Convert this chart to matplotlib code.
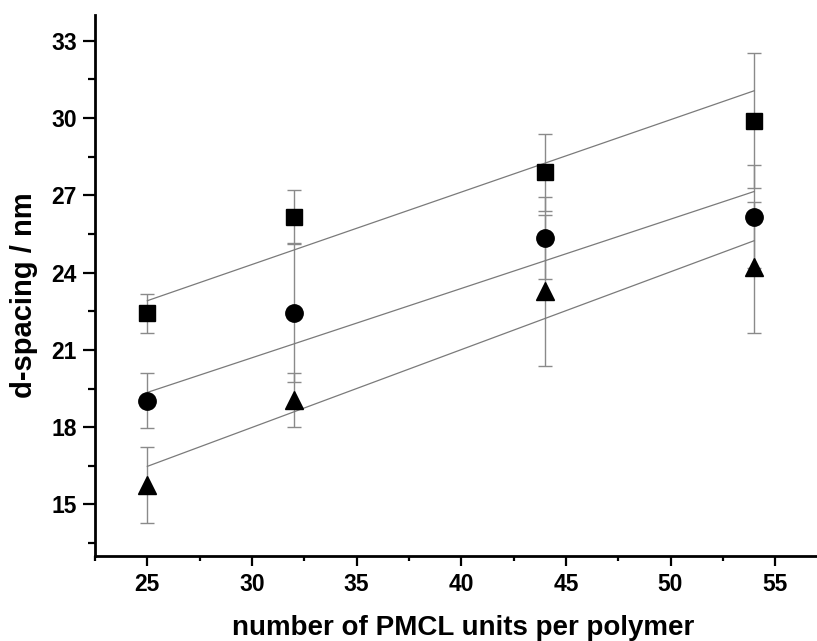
import matplotlib
matplotlib.use('Agg')
import matplotlib.pyplot as plt
import numpy as np
from matplotlib.ticker import MultipleLocator

# ---------------------------------------------------------------------------
# data
# ---------------------------------------------------------------------------
n_units = [25, 32, 44, 54]

d_square = [22.42, 26.17, 27.89, 29.90]
err_square = [0.75, 1.03, 1.49, 2.62]

d_circle = [19.03, 22.42, 25.33, 26.17]
err_circle = [1.07, 2.68, 1.59, 2.01]

d_triangle = [15.77, 19.07, 23.30, 24.20]
err_triangle = [1.48, 1.05, 2.94, 2.54]

# linear fits (value at x=25, value at x=54)
fit_square = [22.91, 31.06]
fit_circle = [19.35, 27.15]
fit_triangle = [16.48, 25.24]

plt.rcParams['font.family'] = ['Liberation Sans', 'DejaVu Sans']
plt.rcParams['font.weight'] = 'bold'

fig = plt.figure(figsize=(8.17, 6.41), dpi=100)
ax = fig.add_axes([0.1163, 0.1326, 0.8837, 0.844])

series = [
    (d_square, err_square, fit_square, 's', 11),
    (d_circle, err_circle, fit_circle, 'o', 12.5),
    (d_triangle, err_triangle, fit_triangle, '^', 13.5),
]

for d, e, fit, mk, ms in series:
    ax.plot([n_units[0], n_units[-1]], fit, color='#7a7a7a', lw=0.9, zorder=2)
    ax.errorbar(n_units, d, yerr=e, fmt='none', ecolor='#8a8a8a',
                elinewidth=1.0, capsize=5, capthick=1.0, zorder=1)
    ax.plot(n_units, d, ls='none', marker=mk, ms=ms, color='black',
            markeredgecolor='black', zorder=3)

ax.set_xlim(22.5, 57.0)
ax.set_ylim(13, 34)
ax.xaxis.set_major_locator(MultipleLocator(5))
ax.xaxis.set_minor_locator(MultipleLocator(2.5))
ax.yaxis.set_major_locator(MultipleLocator(3))
ax.yaxis.set_minor_locator(MultipleLocator(1.5))

for side in ['top', 'right']:
    ax.spines[side].set_visible(False)
for side in ['left', 'bottom']:
    ax.spines[side].set_linewidth(2)

ax.tick_params(axis='x', which='major', direction='out', length=7, width=1.6,
               pad=5, labelsize=16.5)
ax.tick_params(axis='x', which='minor', direction='out', length=3.8, width=1.6)
ax.tick_params(axis='y', which='major', direction='out', length=9, width=1.6,
               pad=4, labelsize=16.5)
ax.tick_params(axis='y', which='minor', direction='out', length=5, width=1.6)

ax.set_xlabel('number of PMCL units per polymer', fontsize=20, fontweight='bold')
ax.set_ylabel('d-spacing / nm', fontsize=21, fontweight='bold')
ax.xaxis.set_label_coords(0.51, -0.109)
ax.yaxis.set_label_coords(-0.079, 0.482)

fig.savefig('out.png', dpi=100, facecolor='white')
